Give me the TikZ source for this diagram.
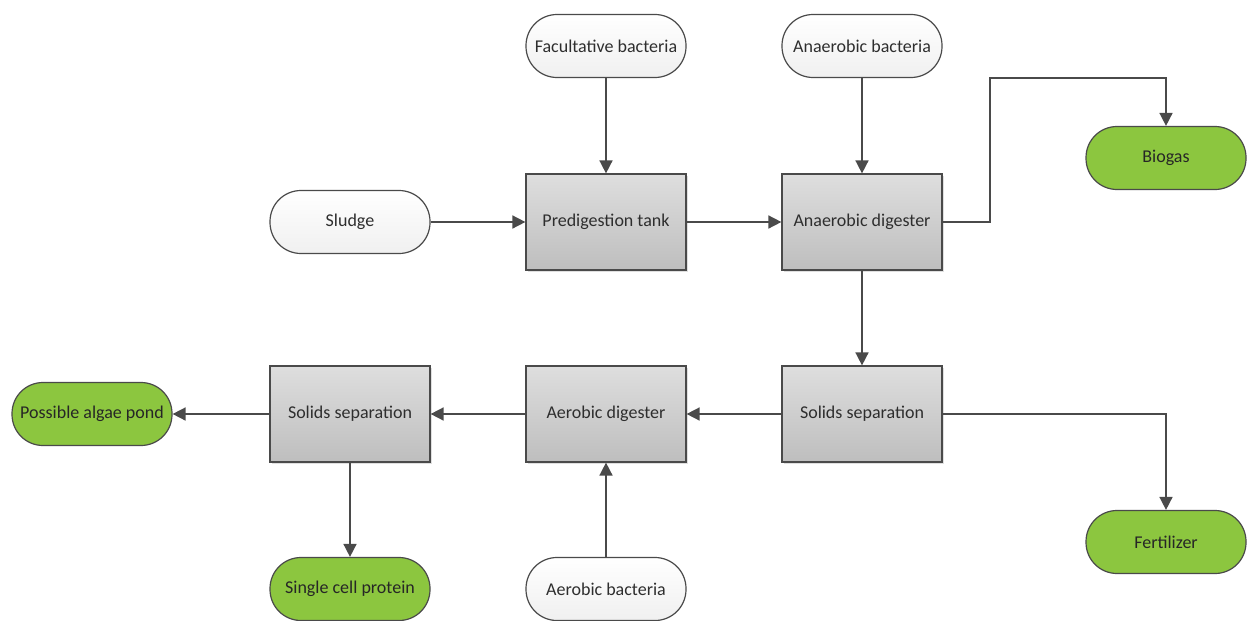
\documentclass[tikz,border=0pt]{standalone}
\usepackage{fontspec}
\setmainfont{Carlito}
\usetikzlibrary{arrows.meta,shadows}
\definecolor{edge}{HTML}{4A4A4A}
\definecolor{leaf}{HTML}{8CC63F}
\definecolor{boxtop}{HTML}{DEDEDE}
\definecolor{boxbot}{HTML}{BEBEBE}
\definecolor{txt}{HTML}{2E2E2E}
\tikzset{
  base/.style={draw=edge, line width=1.2pt, text=txt, font=\fontsize{18}{21}\selectfont,
               minimum width=160pt, align=center, inner sep=0pt},
  procbox/.style={base, rectangle, minimum height=96pt, top color=boxtop, bottom color=boxbot,
                  drop shadow={shadow xshift=2pt, shadow yshift=-2pt, opacity=0.25}},
  agent/.style={base, rounded corners=31pt, minimum height=63pt, top color=white, bottom color=gray!12},
  product/.style={base, rounded corners=31pt, minimum height=63pt, fill=leaf, text=black!85},
  flow/.style={draw=edge, line width=1.6pt, -{Triangle[length=13pt,width=13pt]}}
}
\begin{document}
\begin{tikzpicture}[x=1pt,y=-1pt]
\useasboundingbox (0,0) rectangle (1253,621);
% process units
\node[procbox] (pre)  at (606,222) {Predigestion tank};
\node[procbox] (anad) at (862,222) {Anaerobic digester};
\node[procbox] (ssr)  at (862,414) {Solids separation};
\node[procbox] (aed)  at (606,414) {Aerobic digester};
\node[procbox] (ssl)  at (350,414) {Solids separation};
% inputs
\node[agent] (fac)    at (606,46)  {Facultative bacteria};
\node[agent] (anb)    at (862,46)  {Anaerobic bacteria};
\node[agent] (sludge) at (350,222) {Sludge};
\node[agent] (aeb)    at (606,589) {Aerobic bacteria};
% products
\node[product] (biogas) at (1166,158) {Biogas};
\node[product] (fert)   at (1166,542) {Fertilizer};
\node[product] (algae)  at (92,414)   {Possible algae pond};
\node[product] (scp)    at (350,589)  {Single cell protein};
% routing points
\coordinate (b1) at (990,222);
\coordinate (b2) at (990,78);
\coordinate (b3) at (1166,78);
\coordinate (f1) at (1166,414);
% flows
\draw[flow] (fac) -- (pre);
\draw[flow] (anb) -- (anad);
\draw[flow] (sludge) -- (pre);
\draw[flow] (pre) -- (anad);
\draw[flow] (anad.east) -- (b1) -- (b2) -- (b3) -- (biogas.north);
\draw[flow] (anad) -- (ssr);
\draw[flow] (ssr.east) -- (f1) -- (fert.north);
\draw[flow] (ssr) -- (aed);
\draw[flow] (aeb) -- (aed);
\draw[flow] (aed) -- (ssl);
\draw[flow] (ssl) -- (algae);
\draw[flow] (ssl) -- (scp);
\end{tikzpicture}
\end{document}
